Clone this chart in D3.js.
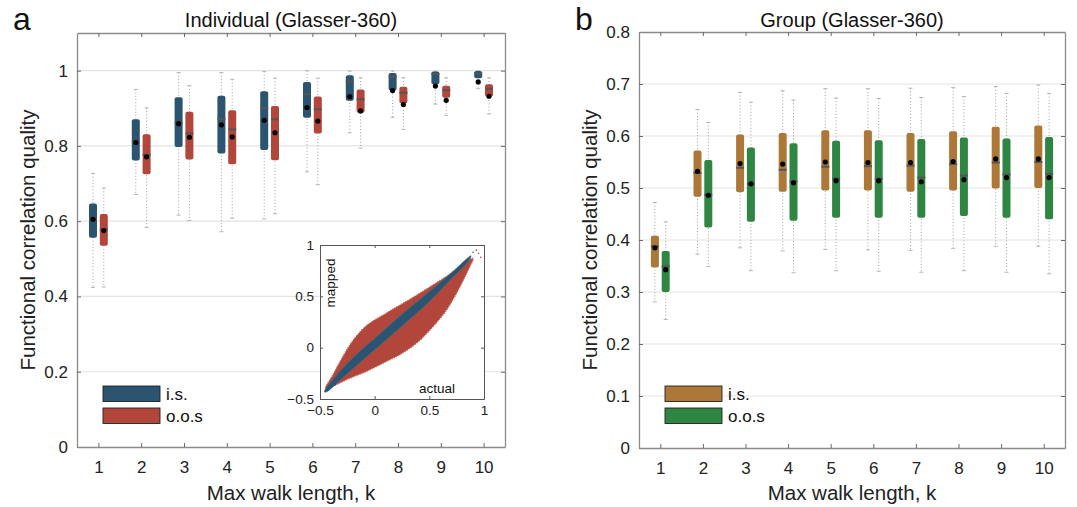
<!DOCTYPE html>
<html>
<head>
<meta charset="utf-8">
<script src="https://cdn.jsdelivr.net/npm/d3@7"></script>
<style>
  body { margin: 0; background: #fff; }
  svg { font-family: "Liberation Sans", Arial, sans-serif; }
</style>
</head>
<body>
<div id="chart"></div>
<script>
// walk length categories
const ks = [1, 2, 3, 4, 5, 6, 7, 8, 9, 10];

// each row: [whisker low, q1, median, q3, whisker high, mean]
const indIs = [
  [0.424, 0.556, 0.605, 0.647, 0.727, 0.605],
  [0.671, 0.761, 0.812, 0.871, 0.950, 0.809],
  [0.616, 0.797, 0.862, 0.929, 0.995, 0.859],
  [0.572, 0.780, 0.871, 0.933, 0.995, 0.856],
  [0.606, 0.789, 0.901, 0.945, 0.998, 0.868],
  [0.731, 0.875, 0.938, 0.970, 1.000, 0.902],
  [0.835, 0.920, 0.971, 0.988, 0.999, 0.931],
  [0.876, 0.947, 0.984, 0.994, 0.999, 0.947],
  [0.911, 0.964, 0.991, 0.998, 0.999, 0.959],
  [0.952, 0.980, 0.993, 0.999, 1.000, 0.970]
];
const indOos = [
  [0.425, 0.535, 0.578, 0.619, 0.688, 0.575],
  [0.583, 0.725, 0.776, 0.831, 0.901, 0.771],
  [0.602, 0.764, 0.833, 0.891, 0.960, 0.823],
  [0.608, 0.751, 0.844, 0.895, 0.977, 0.824],
  [0.620, 0.762, 0.871, 0.906, 0.980, 0.835],
  [0.697, 0.833, 0.897, 0.931, 0.980, 0.866],
  [0.794, 0.888, 0.924, 0.950, 0.981, 0.893],
  [0.844, 0.913, 0.941, 0.957, 0.981, 0.910],
  [0.881, 0.928, 0.948, 0.960, 0.981, 0.921],
  [0.885, 0.931, 0.952, 0.964, 0.981, 0.932]
];
const grpIs = [
  [0.281, 0.347, 0.388, 0.408, 0.472, 0.385],
  [0.373, 0.483, 0.529, 0.572, 0.651, 0.532],
  [0.385, 0.492, 0.539, 0.603, 0.684, 0.547],
  [0.379, 0.493, 0.535, 0.606, 0.687, 0.546],
  [0.382, 0.495, 0.541, 0.611, 0.691, 0.550],
  [0.381, 0.495, 0.542, 0.611, 0.691, 0.549],
  [0.380, 0.493, 0.543, 0.606, 0.692, 0.549],
  [0.384, 0.495, 0.546, 0.609, 0.693, 0.551],
  [0.388, 0.499, 0.549, 0.618, 0.695, 0.556],
  [0.388, 0.500, 0.550, 0.620, 0.698, 0.556]
];
const grpOos = [
  [0.247, 0.300, 0.349, 0.379, 0.435, 0.343],
  [0.349, 0.424, 0.487, 0.554, 0.626, 0.486],
  [0.341, 0.435, 0.508, 0.578, 0.665, 0.508],
  [0.337, 0.437, 0.513, 0.586, 0.669, 0.510],
  [0.341, 0.443, 0.518, 0.591, 0.673, 0.514],
  [0.340, 0.443, 0.518, 0.592, 0.672, 0.514],
  [0.338, 0.443, 0.520, 0.594, 0.674, 0.512],
  [0.341, 0.446, 0.524, 0.597, 0.676, 0.516],
  [0.338, 0.443, 0.526, 0.595, 0.682, 0.520],
  [0.335, 0.440, 0.527, 0.598, 0.682, 0.520]
];

const indYTicks = [0, 0.2, 0.4, 0.6, 0.8, 1];
const grpYTicks = [0, 0.1, 0.2, 0.3, 0.4, 0.5, 0.6, 0.7, 0.8];
const seriesNames = ["i.s.", "o.o.s"];

// inset: outlines of the two scatter clouds (actual, mapped)
const insetOosCloud = [
  [-0.45, -0.40], [-0.38, -0.26], [-0.32, -0.14], [-0.2, 0.07], [-0.07, 0.22], [0.08, 0.32],
  [0.23, 0.415], [0.38, 0.51], [0.53, 0.61], [0.69, 0.72], [0.81, 0.82], [0.9, 0.87],
  [0.84, 0.72], [0.75, 0.53], [0.66, 0.37], [0.53, 0.2], [0.38, 0.04], [0.23, -0.07],
  [0.08, -0.15], [-0.07, -0.23], [-0.23, -0.3], [-0.35, -0.36]
];
const insetIsCloud = [
  [-0.46, -0.43], [-0.3, -0.21], [-0.15, -0.05], [0, 0.09], [0.25, 0.325], [0.5, 0.545],
  [0.7, 0.725], [0.88, 0.895],
  [0.86, 0.845], [0.7, 0.67], [0.5, 0.45], [0.25, 0.21], [0, -0.02], [-0.15, -0.16],
  [-0.3, -0.3], [-0.44, -0.43]
];
const insetStray = [[0.93, 0.95], [0.95, 0.92], [0.97, 0.88], [0.9, 0.93], [-0.36, -0.36]];
const insetTicks = [-0.5, 0, 0.5, 1];

const svg = d3.select("#chart").append("svg")
  .attr("width", 1077)
  .attr("height", 507);

function drawPanel(opt) {
  const x = d3.scaleLinear().domain([0.5, 10.5]).range([opt.left, opt.right]);
  const y = d3.scaleLinear().domain(opt.yDomain).range([opt.bottom, opt.top]);
  const g = svg.append("g");

  // grid
  g.selectAll(".grid").data(opt.yTicks.filter(d => d > 0 && d < opt.yDomain[1]))
    .enter().append("line")
    .attr("x1", opt.left).attr("x2", opt.right)
    .attr("y1", d => y(d)).attr("y2", d => y(d))
    .attr("stroke", "#e3e3e3").attr("stroke-width", 1.2);

  // axes
  const axL = g.append("g").attr("transform", `translate(${opt.left},0)`)
    .call(d3.axisLeft(y).tickValues(opt.yTicks).tickSizeInner(-4).tickSizeOuter(0).tickPadding(9).tickFormat(d3.format("~g")));
  const axR = g.append("g").attr("transform", `translate(${opt.right},0)`)
    .call(d3.axisRight(y).tickValues(opt.yTicks).tickSizeInner(-4).tickSizeOuter(0).tickFormat(""));
  const axB = g.append("g").attr("transform", `translate(0,${opt.bottom})`)
    .call(d3.axisBottom(x).tickValues(ks).tickSizeInner(-4).tickSizeOuter(0).tickPadding(14));
  const axT = g.append("g").attr("transform", `translate(0,${opt.top})`)
    .call(d3.axisTop(x).tickValues(ks).tickSizeInner(-4).tickSizeOuter(0).tickFormat(""));
  [axL, axR, axB, axT].forEach(a => {
    a.select(".domain").attr("stroke", "#8a8a8a").attr("stroke-width", 1.3);
    a.selectAll(".tick line").attr("stroke", "#6a6a6a");
    a.selectAll(".tick text").attr("font-size", 17).attr("fill", "#222");
  });

  // boxes
  const series = [
    { data: opt.s1, color: opt.c1, dx: -5.4 },
    { data: opt.s2, color: opt.c2, dx: 5.4 }
  ];
  const bw = 8;
  series.forEach(s => {
    const sg = g.append("g");
    const items = sg.selectAll("g").data(s.data).enter().append("g")
      .attr("transform", (d, i) => `translate(${x(ks[i]) + s.dx},0)`);
    items.append("line")
      .attr("x1", 0).attr("x2", 0)
      .attr("y1", d => y(d[4])).attr("y2", d => y(d[0]))
      .attr("stroke", "#a0a0a0").attr("stroke-width", 1)
      .attr("stroke-dasharray", "1,2.2");
    items.append("line").attr("class", "cap")
      .attr("x1", -2).attr("x2", 2)
      .attr("y1", d => y(d[4])).attr("y2", d => y(d[4]))
      .attr("stroke", "#b5b5b5");
    items.append("line").attr("class", "cap")
      .attr("x1", -2).attr("x2", 2)
      .attr("y1", d => y(d[0])).attr("y2", d => y(d[0]))
      .attr("stroke", "#b5b5b5");
    items.append("rect")
      .attr("x", -bw / 2).attr("width", bw)
      .attr("y", d => y(d[3]))
      .attr("height", d => Math.max(2, y(d[1]) - y(d[3])))
      .attr("rx", 2).attr("ry", 2)
      .attr("fill", s.color);
    items.append("line")
      .attr("x1", -bw / 2).attr("x2", bw / 2)
      .attr("y1", d => y(d[2])).attr("y2", d => y(d[2]))
      .attr("stroke", "#555").attr("stroke-width", 2);
    items.append("circle")
      .attr("cx", 0).attr("cy", d => y(d[5])).attr("r", 2.6)
      .attr("fill", "#000");
  });

  // labels
  svg.append("text")
    .attr("x", (opt.left + opt.right) / 2).attr("y", 27)
    .attr("text-anchor", "middle").attr("font-size", 20).attr("fill", "#111")
    .text(opt.title);
  svg.append("text")
    .attr("x", (opt.left + opt.right) / 2).attr("y", 500)
    .attr("text-anchor", "middle").attr("font-size", 20.5).attr("fill", "#222")
    .text("Max walk length, k");
  svg.append("text")
    .attr("transform", `translate(${opt.left - 42},${(opt.top + opt.bottom) / 2}) rotate(-90)`)
    .attr("text-anchor", "middle").attr("font-size", 20.5).attr("fill", "#222")
    .text("Functional correlation quality");
  svg.append("text")
    .attr("x", opt.left - 64).attr("y", 30)
    .attr("font-size", 32).attr("fill", "#111")
    .text(opt.letter);

  // legend
  const lg = g.append("g").attr("transform", `translate(${opt.left + 26},386)`);
  [opt.c1, opt.c2].forEach((c, i) => {
    lg.append("rect")
      .attr("x", 0).attr("y", i * 22).attr("width", 57).attr("height", 15.5)
      .attr("fill", c).attr("stroke", "#222").attr("stroke-width", 0.9);
    lg.append("text")
      .attr("x", 63).attr("y", i * 22 + 14)
      .attr("font-size", 17).attr("fill", "#111")
      .text(seriesNames[i]);
  });
  return { x, y };
}

drawPanel({
  left: 77, right: 505, top: 33, bottom: 447,
  yDomain: [0, 1.1], yTicks: indYTicks,
  s1: indIs, s2: indOos, c1: "#2b5470", c2: "#b3463a",
  title: "Individual (Glasser-360)", letter: "a"
});

drawPanel({
  left: 639, right: 1065, top: 32, bottom: 448,
  yDomain: [0, 0.8], yTicks: grpYTicks,
  s1: grpIs, s2: grpOos, c1: "#ad7738", c2: "#2e8642",
  title: "Group (Glasser-360)", letter: "b"
});

// inset scatter
const ix = d3.scaleLinear().domain([-0.5, 1]).range([320, 484]);
const iy = d3.scaleLinear().domain([-0.5, 1]).range([399, 245]);
const inset = svg.append("g");
inset.append("rect")
  .attr("x", 320).attr("y", 245).attr("width", 164).attr("height", 154)
  .attr("fill", "#fff");
const cloud = d3.line().x(d => ix(d[0])).y(d => iy(d[1])).curve(d3.curveCatmullRomClosed.alpha(0.5));
inset.append("path").datum(insetOosCloud)
  .attr("d", cloud).attr("fill", "#b3463a")
  .attr("stroke", "#c97468").attr("stroke-width", 1.4).attr("stroke-dasharray", "1,1.5");
inset.append("path").datum(insetIsCloud)
  .attr("d", cloud).attr("fill", "#2b5470")
  .attr("stroke", "#3d6a88").attr("stroke-width", 0.8);
inset.selectAll(".stray").data(insetStray).enter().append("circle")
  .attr("cx", d => ix(d[0])).attr("cy", d => iy(d[1])).attr("r", 0.8)
  .attr("fill", d => d[0] > 0.9 ? "#b3463a" : "#2b5470");

const iaL = inset.append("g").attr("transform", "translate(320,0)")
  .call(d3.axisLeft(iy).tickValues(insetTicks).tickSizeInner(-3).tickSizeOuter(0).tickPadding(6).tickFormat(d3.format("~g")));
const iaB = inset.append("g").attr("transform", "translate(0,399)")
  .call(d3.axisBottom(ix).tickValues(insetTicks).tickSizeInner(-3).tickSizeOuter(0).tickPadding(6).tickFormat(d3.format("~g")));
const iaR = inset.append("g").attr("transform", "translate(484,0)")
  .call(d3.axisRight(iy).tickValues(insetTicks).tickSizeInner(-3).tickSizeOuter(0).tickFormat(""));
const iaT = inset.append("g").attr("transform", "translate(0,245)")
  .call(d3.axisTop(ix).tickValues(insetTicks).tickSizeInner(-3).tickSizeOuter(0).tickFormat(""));
[iaL, iaB, iaR, iaT].forEach(a => {
  a.select(".domain").attr("stroke", "#555").attr("stroke-width", 1);
  a.selectAll(".tick line").attr("stroke", "#555");
  a.selectAll(".tick text").attr("font-size", 13.5).attr("fill", "#222");
});
inset.append("text")
  .attr("transform", "translate(335,283) rotate(-90)")
  .attr("text-anchor", "middle").attr("font-size", 13.5).attr("fill", "#111")
  .text("mapped");
inset.append("text")
  .attr("x", 437).attr("y", 393)
  .attr("text-anchor", "middle").attr("font-size", 13.5).attr("fill", "#111")
  .text("actual");
</script>
</body>
</html>
